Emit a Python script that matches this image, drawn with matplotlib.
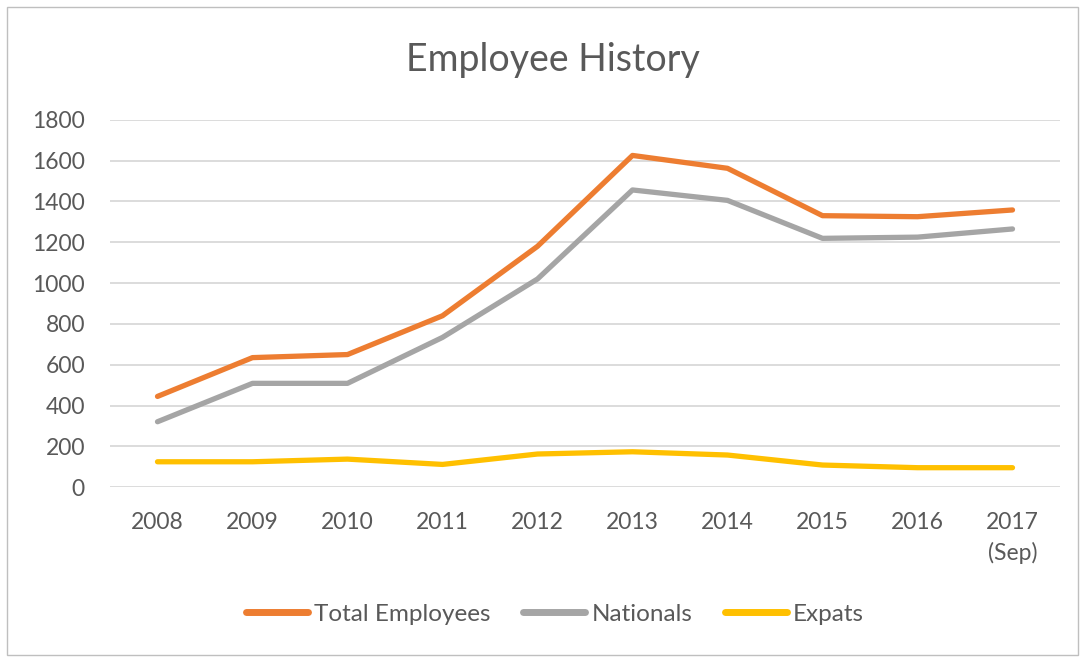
import matplotlib
matplotlib.use("Agg")
import matplotlib.pyplot as plt
from matplotlib.patches import Rectangle

categories = ["2008", "2009", "2010", "2011", "2012", "2013", "2014", "2015", "2016", "2017\n(Sep)"]
total_employees = [445, 635, 650, 840, 1180, 1625, 1562, 1330, 1325, 1358]
nationals = [321, 509, 509, 734, 1020, 1456, 1405, 1219, 1225, 1265]
expats = [125, 125, 138, 112, 163, 174, 158, 109, 96, 96]
yticks = [0, 200, 400, 600, 800, 1000, 1200, 1400, 1600, 1800]

plt.rcParams['font.family'] = ['Lato', 'DejaVu Sans']
text_color = "#595959"

fig = plt.figure(figsize=(10.89, 6.6), dpi=100)
fig.patch.set_facecolor("white")
fig.add_artist(Rectangle((7 / 1089, 1 - 655 / 660), 1071 / 1089, 648 / 660,
                         transform=fig.transFigure, fill=False,
                         edgecolor="#BFBFBF", linewidth=1))

ax = fig.add_axes([110 / 1089, 1 - 487.3 / 660, 950 / 1089, (487.3 - 119.7) / 660])
x = list(range(len(categories)))
ax.plot(x, total_employees, color="#ED7D31", linewidth=3.8, solid_capstyle="round",
        solid_joinstyle="round", label="Total Employees", zorder=3)
ax.plot(x, nationals, color="#A5A5A5", linewidth=3.8, solid_capstyle="round",
        solid_joinstyle="round", label="Nationals", zorder=3)
ax.plot(x, expats, color="#FFC000", linewidth=3.8, solid_capstyle="round",
        solid_joinstyle="round", label="Expats", zorder=3)

ax.set_xlim(-0.5, len(categories) - 0.5)
ax.set_ylim(0, 1800)
ax.set_yticks(yticks)
ax.set_yticklabels([str(v) for v in yticks])
ax.set_xticks(x)
ax.set_xticklabels(categories, linespacing=1.45, va="top")
ax.grid(axis="y", color="#D9D9D9", linewidth=1.3, zorder=0)
for s in ax.spines.values():
    s.set_visible(False)
ax.tick_params(axis="both", length=0, labelsize=16.5, colors=text_color)
ax.tick_params(axis="y", pad=18)
ax.tick_params(axis="x", pad=18)

fig.text(553 / 1089, 1 - 60 / 660, "Employee History", ha="center", va="center",
         fontsize=27, color=text_color)

leg = fig.legend(loc="center", bbox_to_anchor=(555 / 1089, 1 - 614 / 660), ncol=3,
                 frameon=False, fontsize=17.5, handlelength=2.55, handletextpad=0.25,
                 columnspacing=1.35)
for t in leg.get_texts():
    t.set_color(text_color)
for h in leg.legend_handles:
    h.set_linewidth(5)

fig.savefig("out.png", dpi=100, facecolor="white")
